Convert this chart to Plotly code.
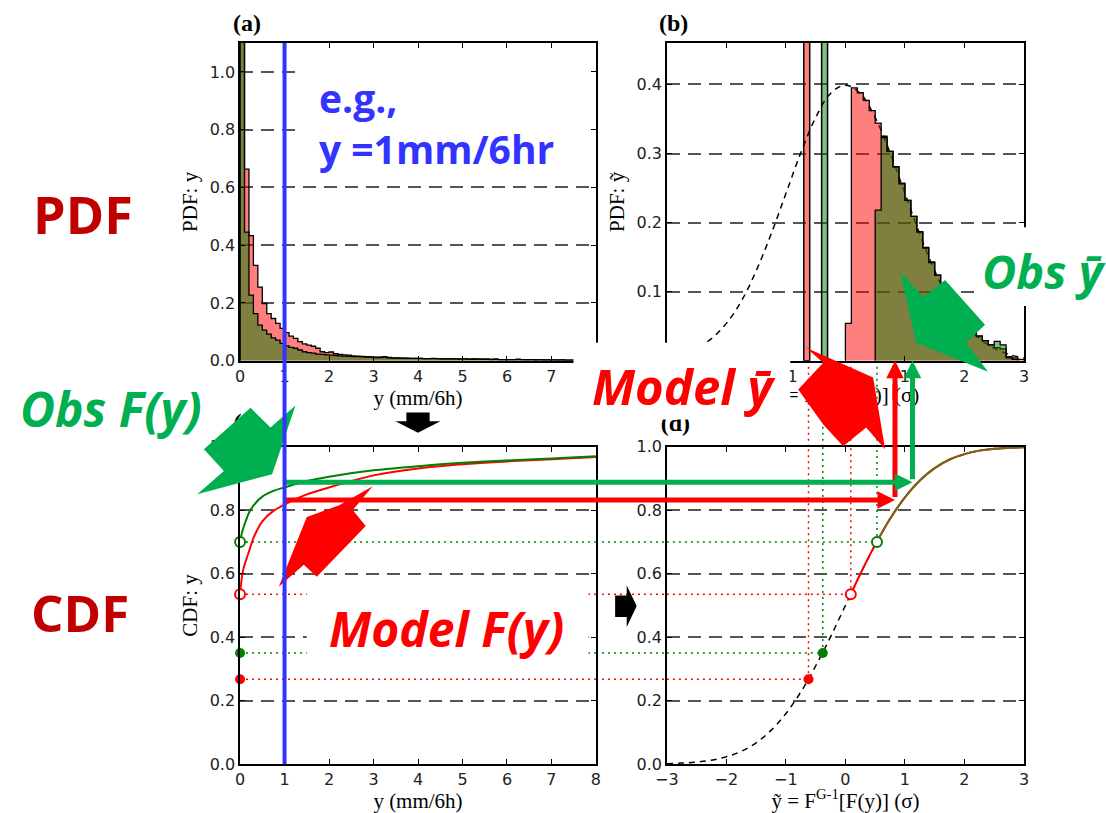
import plotly.graph_objects as go

# The page is shown with the browser's default 8px body margin and the
# photograph is slightly down-scaled; positions below are written in the
# photograph's pixels and converted to paper fractions for the layout.
FW, FH = 1106, 813
OFF = 8
SX = 1106 / (FW + 2 * OFF)
SY = 813 / (FH + 2 * OFF)

# ---------------- data ----------------
BIN_W = 0.1
A_START = 0.0
pdf_obs_a = [3.0, 0.445, 0.227, 0.163, 0.123, 0.106, 0.092, 0.079, 0.071, 0.060,
             0.051, 0.046, 0.043, 0.037, 0.031, 0.028, 0.026, 0.023, 0.022, 0.020,
             0.019, 0.018, 0.017, 0.016, 0.015, 0.014, 0.014, 0.013, 0.012, 0.012,
             0.011, 0.011, 0.012, 0.010, 0.009, 0.009, 0.009, 0.008, 0.008, 0.008,
             0.008, 0.007, 0.007, 0.007, 0.007, 0.006, 0.006, 0.006, 0.006, 0.006,
             0.006, 0.005, 0.005, 0.006, 0.005, 0.005, 0.005, 0.005, 0.004, 0.004,
             0.004, 0.004, 0.005, 0.004, 0.004, 0.004, 0.003, 0.004, 0.003, 0.003,
             0.003, 0.003, 0.003, 0.002, 0.002]
pdf_model_a = [2.5, 0.663, 0.433, 0.330, 0.255, 0.198, 0.163, 0.146, 0.129, 0.112,
               0.097, 0.085, 0.077, 0.066, 0.058, 0.054, 0.050, 0.043, 0.031, 0.028,
               0.030, 0.024, 0.022, 0.020, 0.019, 0.017, 0.016, 0.015, 0.014, 0.013,
               0.012, 0.012, 0.014, 0.011, 0.010, 0.010, 0.009, 0.009, 0.008, 0.008,
               0.008, 0.007, 0.007, 0.008, 0.007, 0.006, 0.006, 0.006, 0.006, 0.005,
               0.006, 0.005, 0.006, 0.005, 0.005, 0.005, 0.004, 0.005, 0.004, 0.004,
               0.004, 0.004, 0.004, 0.004, 0.003, 0.004, 0.003, 0.003, 0.003, 0.003,
               0.003, 0.002, 0.003, 0.002, 0.002]

B_MODEL_START = 0.0
pdf_model_b = [0.054, 0.395, 0.388, 0.377, 0.362, 0.344, 0.325, 0.303, 0.280, 0.257,
               0.232, 0.209, 0.186, 0.164, 0.143, 0.124, 0.106, 0.090, 0.076, 0.064,
               0.052, 0.043, 0.035, 0.029, 0.023, 0.019, 0.017, 0.006, 0.004, 0.002]
B_OBS_START = 0.5
pdf_obs_b = [0.218, 0.323, 0.303, 0.281, 0.256, 0.232, 0.209, 0.187, 0.163, 0.142,
             0.124, 0.107, 0.091, 0.077, 0.065, 0.054, 0.044, 0.036, 0.029, 0.023,
             0.028, 0.023, 0.004, 0.002]
dry_spike_x = [-0.65, -0.35]          # model, obs
dry_spike_h = [5.35, 7.0]

z_grid = [-3.0, -2.75, -2.5, -2.25, -2.0, -1.75, -1.5, -1.25, -1.0, -0.75, -0.5, -0.25,
          0.0, 0.25, 0.5, 0.75, 1.0, 1.25, 1.5, 1.75, 2.0, 2.25, 2.5, 2.75, 3.0]
gauss_pdf = [0.004, 0.009, 0.018, 0.032, 0.054, 0.086, 0.130, 0.183, 0.242, 0.301, 0.352, 0.387,
             0.399, 0.387, 0.352, 0.301, 0.242, 0.183, 0.130, 0.086, 0.054, 0.032, 0.018, 0.009, 0.004]
gauss_cdf = [0.001, 0.003, 0.006, 0.012, 0.023, 0.040, 0.067, 0.106, 0.159, 0.227, 0.309, 0.401,
             0.500, 0.599, 0.691, 0.773, 0.841, 0.894, 0.933, 0.960, 0.977, 0.988, 0.994, 0.997, 0.999]

cdf_y = [0, 0.02, 0.05, 0.1, 0.2, 0.3, 0.5, 0.75, 1, 1.5, 2, 3, 4, 5, 6, 7, 8]
cdf_obs = [0.700, 0.715, 0.733, 0.755, 0.792, 0.815, 0.843, 0.861, 0.872, 0.892, 0.906,
           0.926, 0.939, 0.950, 0.957, 0.963, 0.970]
cdf_model = [0.535, 0.565, 0.598, 0.628, 0.670, 0.712, 0.765, 0.798, 0.818, 0.850, 0.872,
             0.910, 0.932, 0.945, 0.954, 0.961, 0.968]

# index 0 = model, index 1 = obs
dry_frac = [0.535, 0.70]
dry_mid = [0.267, 0.35]
z_dry_frac = [0.09, 0.53]
z_dry_mid = [-0.62, -0.38]
example_y = 1.0
F_example = [0.832, 0.888]
z_example = [0.833, 1.127]

# tick labels (the ones hidden under the label boxes in the reference are blank)
a_xticks = [0, 1, 2, 3, 4, 5, 6, 7, 8]
a_xlabels = ["0", "1", "2", "3", "4", "5", "6", "7", ""]
b_xticks = [-3, -2, -1, 0, 1, 2, 3]
b_xlabels = ["", "", "−1", "0", "1", "2", "3"]
b_yticks = [0.0, 0.1, 0.2, 0.3, 0.4]
b_ylabels = ["", "0.1", "0.2", "0.3", "0.4"]

RED = "#FF0000"
GREEN = "#008000"
RED_FILL = "rgba(255,0,0,0.5)"
GREEN_FILL = "rgba(0,128,0,0.5)"
OLIVE = "#6e6b1a"
BRIGHT_GREEN = "#00B050"
DARK_RED = "#C00000"
BLUE = "#3333FF"


# ---------------- geometry (photo pixels -> paper fractions) ----------------
def fx(px):
    return (px / SX - OFF) / FW


def fy(py):
    return 1 - (py / SY - OFF) / FH


XA = [fx(236.2), fx(592.5)]
XB = [fx(663.5), fx(1021.0)]
YTOP = [fy(361), fy(42)]
YBOT = [fy(766), fy(447.5)]
XR_A = [0, 8]
XR_B = [-3, 3]


def step_xy(start, vals, w):
    edges = [round(start + i * w, 6) for i in range(len(vals) + 1)]
    xs = [edges[0]] + edges[:-1] + [edges[-1]]
    ys = [0] + list(vals) + [0]
    return xs, ys


fig = go.Figure()
NOHOVER = dict(hoverinfo="skip", showlegend=False)

# ---- (a) ----
for vals, fc in [(pdf_model_a, RED_FILL), (pdf_obs_a, GREEN_FILL)]:
    xs, ys = step_xy(A_START, vals, BIN_W)
    fig.add_trace(go.Scatter(x=xs, y=ys, mode="lines", fill="tozeroy", fillcolor=fc,
                             line=dict(color="black", width=1.3, shape="hv"),
                             xaxis="x", yaxis="y", **NOHOVER))

# ---- (b) ----
fig.add_trace(go.Scatter(x=z_grid, y=gauss_pdf, mode="lines",
                         line=dict(color="black", width=1.5, dash="6px,5px", shape="spline"),
                         xaxis="x2", yaxis="y2", **NOHOVER))
for start, vals, fc in [(B_MODEL_START, pdf_model_b, RED_FILL), (B_OBS_START, pdf_obs_b, GREEN_FILL)]:
    xs, ys = step_xy(start, vals, BIN_W)
    fig.add_trace(go.Scatter(x=xs, y=ys, mode="lines", fill="tozeroy", fillcolor=fc,
                             line=dict(color="black", width=1.3, shape="hv"),
                             xaxis="x2", yaxis="y2", **NOHOVER))
for i, fc in enumerate([RED_FILL, GREEN_FILL]):
    fig.add_trace(go.Bar(x=[dry_spike_x[i]], y=[dry_spike_h[i]], width=BIN_W,
                         marker=dict(color=fc, line=dict(color="black", width=1.5)),
                         xaxis="x2", yaxis="y2", **NOHOVER))

# ---- (c) ----
cols = [RED, GREEN]
for i in range(2):
    for lvl in (dry_frac[i], dry_mid[i]):
        fig.add_trace(go.Scatter(x=[XR_A[0], XR_A[1]], y=[lvl, lvl], mode="lines",
                                 line=dict(color=cols[i], width=1.5, dash="2px,4px"),
                                 xaxis="x3", yaxis="y3", **NOHOVER))
for vals, c in [(cdf_model, RED), (cdf_obs, GREEN)]:
    fig.add_trace(go.Scatter(x=cdf_y, y=vals, mode="lines",
                             line=dict(color=c, width=2, shape="spline", smoothing=0.6),
                             xaxis="x3", yaxis="y3", **NOHOVER))
for i in range(2):
    fig.add_trace(go.Scatter(x=[0], y=[dry_frac[i]], mode="markers", cliponaxis=False,
                             marker=dict(symbol="circle", size=10, color="white",
                                         line=dict(color=cols[i], width=2)),
                             xaxis="x3", yaxis="y3", **NOHOVER))
    fig.add_trace(go.Scatter(x=[0], y=[dry_mid[i]], mode="markers", cliponaxis=False,
                             marker=dict(symbol="circle", size=10, color=cols[i]),
                             xaxis="x3", yaxis="y3", **NOHOVER))

# ---- (d) ----
for i in range(2):
    for lvl, z in ((dry_frac[i], z_dry_frac[i]), (dry_mid[i], z_dry_mid[i])):
        fig.add_trace(go.Scatter(x=[XR_B[0], z], y=[lvl, lvl], mode="lines",
                                 line=dict(color=cols[i], width=1.5, dash="2px,4px"),
                                 xaxis="x4", yaxis="y4", **NOHOVER))
        fig.add_trace(go.Scatter(x=[z, z], y=[lvl, 1.0], mode="lines",
                                 line=dict(color=cols[i], width=1.5, dash="2px,4px"),
                                 xaxis="x4", yaxis="y4", **NOHOVER))
fig.add_trace(go.Scatter(x=z_grid, y=gauss_cdf, mode="lines",
                         line=dict(color="black", width=1.5, dash="6px,5px", shape="spline"),
                         xaxis="x4", yaxis="y4", **NOHOVER))
for i, c in [(0, RED), (1, OLIVE)]:
    xs = [z_dry_frac[i]] + [z for z in z_grid if z > z_dry_frac[i]]
    ys = [dry_frac[i]] + [v for z, v in zip(z_grid, gauss_cdf) if z > z_dry_frac[i]]
    fig.add_trace(go.Scatter(x=xs, y=ys, mode="lines",
                             line=dict(color=c, width=2, shape="spline"),
                             xaxis="x4", yaxis="y4", **NOHOVER))
for i in range(2):
    fig.add_trace(go.Scatter(x=[z_dry_mid[i]], y=[dry_mid[i]], mode="markers",
                             marker=dict(symbol="circle", size=10, color=cols[i]),
                             xaxis="x4", yaxis="y4", **NOHOVER))
    fig.add_trace(go.Scatter(x=[z_dry_frac[i]], y=[dry_frac[i]], mode="markers",
                             marker=dict(symbol="circle", size=10, color="white",
                                         line=dict(color=cols[i], width=2)),
                             xaxis="x4", yaxis="y4", **NOHOVER))

# ---- overlay canvas (photo pixels) for the hand-drawn illustration parts ----
SERIF = "Liberation Serif"
OV = dict(xaxis="x5", yaxis="y5", **NOHOVER)


def text_trace(x, y, txt, size=21, bold=False):
    fig.add_trace(go.Scatter(x=[x], y=[y], mode="text", text=[txt], textposition="middle center",
                             textfont=dict(family=SERIF, size=size, color="black",
                                           weight="bold" if bold else "normal"), **OV))


def poly(pts, color):
    xs = [p[0] for p in pts] + [pts[0][0]]
    ys = [p[1] for p in pts] + [pts[0][1]]
    fig.add_trace(go.Scatter(x=xs, y=ys, mode="lines", fill="toself", fillcolor=color,
                             line=dict(width=0, color=color), **OV))


text_trace(842, 397, "ỹ = F<sup>G-1</sup>[F(y)] (σ)")
text_trace(243, 425, "(c)", size=24, bold=True)
text_trace(672, 426, "(d)", size=24, bold=True)

# white label boxes
for x0, x1, y0, y1 in [(297, 586, 50, 178), (303, 585, 585, 668), (570, 787, 343, 420), (978, 1106, 227, 306)]:
    poly([(x0, y0), (x1, y0), (x1, y1), (x0, y1)], "white")

# small black arrows
poly([(402.7, 413), (426, 413), (426, 421.7), (436.7, 421.7), (414.3, 433.3), (391.7, 421.7), (402.7, 421.7)], "black")
poly([(611.7, 596.7), (623.3, 596.7), (623.3, 586.7), (633.3, 607.3), (623.3, 628.3), (623.3, 618.3), (611.7, 618.3)], "black")

# block arrows
poly([(200, 450), (246.7, 408.3), (266.7, 428), (291.7, 406), (268.3, 475), (193.3, 495), (220, 471.7)], BRIGHT_GREEN)
poly([(275, 588), (303, 518), (336, 506), (369, 487), (349, 511), (362, 527), (313, 578), (300, 566)], RED)
poly([(803, 348), (870, 378), (882, 450), (863, 428), (840, 447), (820, 425), (795, 390), (820, 363)], RED)
poly([(897, 272), (920, 297), (942, 280), (982, 325), (963, 343), (985, 372), (913, 343)], BRIGHT_GREEN)

# ---------------- shapes ----------------
shapes = []
for i in range(2):
    for lvl in (dry_frac[i], dry_mid[i]):
        shapes.append(dict(type="line", layer="below", xref="paper", yref="y3",
                           x0=XA[1], x1=XB[0], y0=lvl, y1=lvl,
                           line=dict(color=cols[i], width=1.5, dash="2px,4px")))
    for z in (z_dry_frac[i], z_dry_mid[i]):
        shapes.append(dict(type="line", layer="below", xref="x4", yref="paper",
                           x0=z, x1=z, y0=YBOT[1], y1=YTOP[0],
                           line=dict(color=cols[i], width=1.5, dash="2px,4px")))
for i, c in enumerate([RED, BRIGHT_GREEN]):
    lw = dict(color=c, width=5)
    shapes += [
        dict(type="line", xref="x3", yref="y3", x0=example_y, x1=XR_A[1], y0=F_example[i], y1=F_example[i], line=lw),
        dict(type="line", xref="paper", yref="y3", x0=XA[1], x1=XB[0], y0=F_example[i], y1=F_example[i], line=lw),
        dict(type="line", xref="x4", yref="y4", x0=XR_B[0], x1=z_example[i] - 0.2, y0=F_example[i], y1=F_example[i], line=lw),
        dict(type="line", xref="x4", yref="y4", x0=z_example[i], x1=z_example[i], y0=F_example[i] + 0.01, y1=1.0, line=lw),
        dict(type="line", xref="x4", yref="paper", x0=z_example[i], x1=z_example[i], y0=YBOT[1], y1=YTOP[0] - 0.03, line=lw),
    ]
shapes.append(dict(type="line", xref="x", yref="paper", x0=example_y, x1=example_y,
                   y0=YBOT[0], y1=YTOP[1], line=dict(color=BLUE, width=4)))

# ---------------- annotations ----------------
ann = []
for i, c in enumerate([RED, BRIGHT_GREEN]):
    ann.append(dict(xref="x4", yref="y4", x=z_example[i], y=F_example[i], axref="x4", ayref="y4",
                    ax=z_example[i] - 0.3, ay=F_example[i], text="", showarrow=True,
                    arrowhead=2, arrowsize=0.7, arrowwidth=5, arrowcolor=c, standoff=0))
    ann.append(dict(xref="x2", yref="y2", x=z_example[i], y=0.0, axref="x2", ayref="y2",
                    ax=z_example[i], ay=-0.06, text="", showarrow=True,
                    arrowhead=2, arrowsize=0.7, arrowwidth=5, arrowcolor=c, standoff=0))


def label(x, y, txt, color, size, italic=True, **kw):
    d = dict(xref="x5", yref="y5", x=x, y=y, text=txt, showarrow=False,
             font=dict(family="Open Sans, Noto Sans", size=size, color=color, weight="bold",
                       style="italic" if italic else "normal"))
    d.update(kw)
    ann.append(d)


label(79, 213, "PDF", DARK_RED, 52, italic=False)
label(76, 613, "CDF", DARK_RED, 51, italic=False)
label(107, 409, "Obs F(y)", BRIGHT_GREEN, 48)
label(680, 386, "Model ȳ", RED, 49)
label(1041, 271, "Obs ȳ", BRIGHT_GREEN, 47)
label(443, 630, "Model F(y)", RED, 48)
label(313, 68, "e.g.,<br>y =1mm/6hr", BLUE, 39, italic=False, xanchor="left", yanchor="top", align="left")
for x, t in [(243, "(a)"), (670, "(b)")]:
    ann.append(dict(xref="x5", yref="y5", x=x, y=22, text=t, showarrow=False,
                    font=dict(family=SERIF, size=24, color="black", weight="bold")))

# ---------------- axes ----------------
TICKFONT = dict(family="DejaVu Sans", size=16, color="#222")
TITLEFONT = dict(family=SERIF, size=21, color="black")


def xax(dom, anchor, rng, title=None, tickvals=None, ticktext=None):
    d = dict(domain=dom, anchor=anchor, range=rng, dtick=1, showline=True, linecolor="black",
             linewidth=1.5, mirror="ticks", ticks="inside", ticklen=5, tickcolor="black",
             tickfont=TICKFONT, showgrid=False, zeroline=False, fixedrange=True)
    if tickvals is not None:
        d.update(tickmode="array", tickvals=tickvals, ticktext=ticktext)
    if title:
        d["title"] = dict(text=title, font=TITLEFONT, standoff=1)
    return d


def yax(dom, anchor, rng, dt, title, tickvals=None, ticktext=None):
    d = dict(domain=dom, anchor=anchor, range=rng, dtick=dt, tickformat=".1f", showline=True,
             linecolor="black", linewidth=1.5, mirror="ticks", ticks="inside", ticklen=5,
             tickcolor="black", tickfont=TICKFONT, showgrid=True, gridcolor="#555",
             gridwidth=1.5, griddash="13px,8px", zeroline=False, fixedrange=True,
             title=dict(text=title, font=TITLEFONT, standoff=6))
    if tickvals is not None:
        d.update(tickmode="array", tickvals=tickvals, ticktext=ticktext)
    return d


fig.update_layout(
    width=FW, height=FH, autosize=False,
    margin=dict(l=0, r=0, t=0, b=0),
    paper_bgcolor="white", plot_bgcolor="rgba(0,0,0,0)",
    barmode="overlay", showlegend=False,
    xaxis=xax(XA, "y", XR_A, "y (mm/6h)", a_xticks, a_xlabels),
    yaxis=yax(YTOP, "x", [0, 1.1], 0.2, "PDF: y"),
    xaxis2=xax(XB, "y2", XR_B, None, b_xticks, b_xlabels),
    yaxis2=yax(YTOP, "x2", [0, 0.46], 0.1, "PDF: ỹ", b_yticks, b_ylabels),
    xaxis3=xax(XA, "y3", XR_A, "y (mm/6h)"),
    yaxis3=yax(YBOT, "x3", [0, 1], 0.2, "CDF: y"),
    xaxis4=xax(XB, "y4", XR_B, "ỹ = F<sup>G-1</sup>[F(y)] (σ)"),
    yaxis4=yax(YBOT, "x4", [0, 1], 0.2, ""),
    xaxis5=dict(domain=[0, 1], anchor="y5", range=[OFF * SX, (FW + OFF) * SX], visible=False, fixedrange=True),
    yaxis5=dict(domain=[0, 1], anchor="x5", range=[(FH + OFF) * SY, OFF * SY], visible=False, fixedrange=True),
    shapes=shapes,
    annotations=ann,
)

fig.write_html("out.html")
